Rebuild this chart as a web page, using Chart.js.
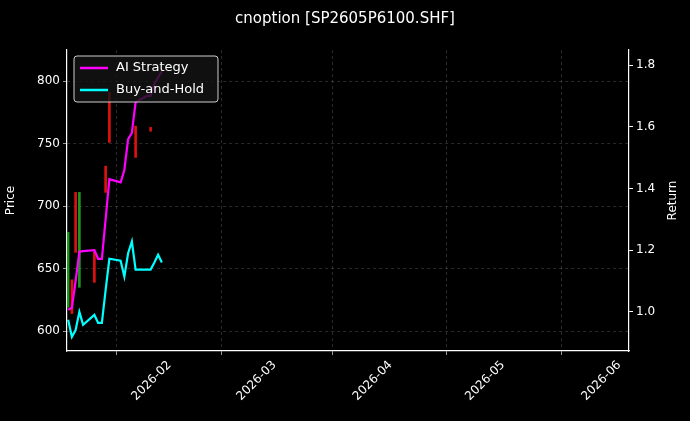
<!DOCTYPE html>
<html><head><meta charset="utf-8">
<script src="https://cdn.jsdelivr.net/npm/chart.js@4"></script>
<style>html,body{margin:0;background:#000}#w{width:690px;height:421px}</style>
</head><body><div id="w"><canvas id="c"></canvas></div>
<script>
// day index: 0 = 2026-01-01
const days = [4,5,6,7,8,11,12,13,14,15,18,19,20,21,22,25,26,27,28,29];
const aiStrategy = [1.007,1.013,1.10,1.195,1.197,1.20,1.172,1.172,1.30,1.43,1.42,1.46,1.56,1.58,1.68,1.70,1.70,1.74,1.76,1.78];
const buyHold = [0.974,0.919,0.941,1.0,0.958,0.99,0.964,0.964,1.07,1.172,1.166,1.114,1.19,1.228,1.137,1.137,1.137,1.16,1.185,1.16];
const candleDays = [4,5,6,7,11,14,15,22,26];
const candleLow = [619,614,663,635,639,711,751,739,760];
const candleHigh = [679,641,711,711,663,732,791,764,763];
const candleUp = [true,false,false,true,false,false,false,false,false];
const tickDays = [31,59,90,120,151];
const tickLabels = ['2026-02','2026-03','2026-04','2026-05','2026-06'];

const grid = {color:'rgba(200,200,200,0.35)', lineWidth:0.6, drawTicks:true, tickColor:'#fff', tickLength:4};
const border = {color:'#fff',width:1.2,dash:[3,3]};
const legendPlugin = {id:'lg', afterDraw(ch){
  const c=ch.ctx, a=ch.chartArea; const x=a.left+7, y=a.top+6;
  c.save(); c.fillStyle='rgba(20,20,20,0.8)'; c.strokeStyle='#ccc'; c.lineWidth=1;
  c.beginPath(); c.roundRect(x,y,144,46,3); c.fill(); c.stroke();
  c.font='13px "DejaVu Sans"'; c.textBaseline='middle'; c.fillStyle='#fff';
  [['AI Strategy','#ff00ff'],['Buy-and-Hold','#00ffff']].forEach((it,i)=>{
    const yy=y+12+i*22; c.strokeStyle=it[1]; c.lineWidth=2.5;
    c.beginPath(); c.moveTo(x+6,yy); c.lineTo(x+34,yy); c.stroke();
    c.fillText(it[0],x+42,yy);});
  c.translate(673,(a.top+a.bottom)/2); c.rotate(-Math.PI/2);
  c.font='12px "DejaVu Sans"'; c.textAlign='center'; c.fillText('Return',0,0);
  c.restore();}};
new Chart(document.getElementById('c'),{
  type:'line',
  data:{datasets:[
    {type:'bar',label:'candles',data:candleDays.map((d,i)=>({x:d,y:[candleLow[i],candleHigh[i]]})),
     backgroundColor:candleUp.map(u=>u?'#1a9a1a':'#e01010'),barThickness:2,yAxisID:'y',order:3},
    {label:'AI Strategy',data:days.map((d,i)=>({x:d,y:aiStrategy[i]})),borderColor:'#ff00ff',borderWidth:2.2,pointRadius:0,yAxisID:'y2',order:1},
    {label:'Buy-and-Hold',data:days.map((d,i)=>({x:d,y:buyHold[i]})),borderColor:'#00ffff',borderWidth:2.2,pointRadius:0,yAxisID:'y2',order:2}
  ]},
  options:{responsive:true,maintainAspectRatio:false,animation:false,
    layout:{padding:{top:10,right:0,left:0,bottom:0}},
    plugins:{legend:{display:false},tooltip:{enabled:false},
      title:{display:true,text:'cnoption [SP2605P6100.SHF]',color:'#fff',font:{size:15,family:'DejaVu Sans',weight:'normal'},padding:{top:0,bottom:22}}},
    scales:{
      x:{type:'linear',min:3.7,max:153.6,offset:false,
        afterBuildTicks:s=>{s.ticks=tickDays.map(v=>({value:v}));},
        afterFit:s=>{s.height=70;},
        ticks:{color:'#fff',maxRotation:45,minRotation:45,font:{size:12,family:'DejaVu Sans'},callback:v=>tickLabels[tickDays.indexOf(v)]},
        grid:grid,border:border},
      y:{position:'left',min:584,max:825,
        afterBuildTicks:s=>{s.ticks=[600,650,700,750,800].map(v=>({value:v}));},
        afterFit:s=>{s.width=67;},
        ticks:{color:'#fff',font:{size:12,family:'DejaVu Sans'}},
        title:{display:true,text:'Price',color:'#fff',font:{size:12,family:'DejaVu Sans'}},
        grid:grid,border:border},
      y2:{position:'right',min:0.873,max:1.849,
        afterBuildTicks:s=>{s.ticks=[1.0,1.2,1.4,1.6,1.8].map(v=>({value:v}));},
        afterFit:s=>{s.width=61;},
        ticks:{color:'#fff',font:{size:12,family:'DejaVu Sans'},callback:v=>v.toFixed(1)},
        grid:{drawOnChartArea:false,tickColor:'#fff',tickLength:4},border:{color:'#fff',width:1.2}}
    }},
  plugins:[legendPlugin]
});
</script></body></html>
